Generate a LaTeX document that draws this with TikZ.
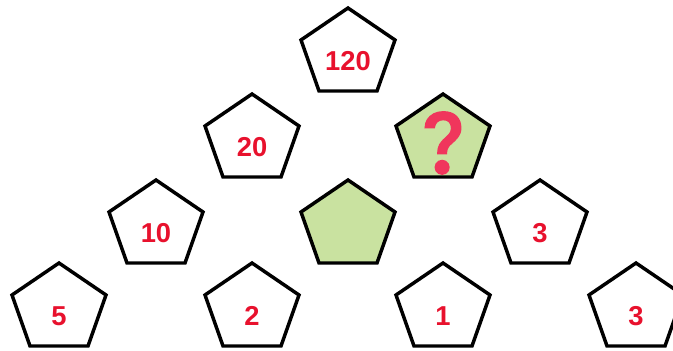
\documentclass[tikz,border=0pt]{standalone}
\usepackage{fontspec}
\setmainfont{Liberation Sans}
\newfontfamily\emojifont[FakeBold=2.5]{Noto Emoji}
\usepackage{xcolor}
\definecolor{NumRed}{HTML}{E8112D}
\definecolor{PentGreen}{HTML}{C9E2A0}
\definecolor{QuizPink}{HTML}{F0365C}

\begin{document}
\begin{tikzpicture}[
  x=0.75pt, y=-0.75pt,
  pentline/.style={draw=black,line width=2.6pt,line join=miter},
  numlabel/.style={text=NumRed,font=\bfseries\fontsize{20.5}{20.5}\selectfont,inner sep=0pt}
]
  \useasboundingbox (0,0) rectangle (673,350);

  % pentagons: name / centre x / top y / label / fill
  \foreach \n/\cx/\ty/\lab/\fil in {
      top/348/8/120/white,
      midl/252/94/20/white,
      midr/443/94/{}/PentGreen,
      lowl/156/180/10/white,
      lowm/348/180/{}/PentGreen,
      lowr/540/180/3/white,
      baseA/59/263/5/white,
      baseB/252/263/2/white,
      baseC/443/263/1/white,
      baseD/636/263/3/white} {
    \draw[pentline,fill=\fil] (\cx,\ty) -- (\cx+47,\ty+32) -- (\cx+29,\ty+83)
      -- (\cx-29,\ty+83) -- (\cx-47,\ty+32) -- cycle;
    \node[numlabel] (n-\n) at (\cx,\ty+53) {\lab};
  }

  \node[text=QuizPink,font=\emojifont\fontsize{46}{46}\selectfont,inner sep=0pt]
    (quiz) at (443,143) {❓};
\end{tikzpicture}
\end{document}
